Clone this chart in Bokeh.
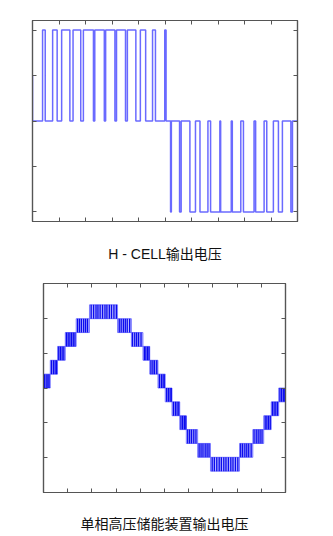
import numpy as np
from bokeh.plotting import figure
from bokeh.layouts import column
from bokeh.models import Range1d, LinearAxis, FixedTicker, ColumnDataSource
from bokeh.core.properties import value
from bokeh.embed import file_html
from bokeh.resources import INLINE

# ---------------- Chart 1: H-CELL output voltage (pulse edges, fraction of period) -------------
hcell_title = "H - CELL输出电压"
hcell_start_level = 0.5
pos_rise = [0.038, 0.076, 0.110, 0.153, 0.192, 0.235, 0.276, 0.317, 0.358, 0.407, 0.453, 0.499]
pos_fall = [0.048, 0.093, 0.141, 0.182, 0.230, 0.271, 0.311, 0.351, 0.390, 0.427, 0.464, 0.504]
neg_fall = [0.521, 0.555, 0.594, 0.632, 0.672, 0.710, 0.754, 0.796, 0.842, 0.884, 0.928, 0.975]
neg_rise = [0.524, 0.561, 0.615, 0.662, 0.707, 0.750, 0.786, 0.836, 0.874, 0.909, 0.943, 0.981]
hcell_xticks = [0.0, 0.1, 0.2, 0.3, 0.4, 0.5, 0.6, 0.7, 0.8, 0.9, 1.0]
hcell_yticks = [-1.0, -0.5, 0.0, 0.5, 1.0]

# ---------------- Chart 2: single-phase HV storage output (staircase bands) --------------------
stack_title = "单相高压储能装置输出电压"
band_start = [0.000, 0.028, 0.058, 0.090, 0.135, 0.190, 0.306, 0.363, 0.411, 0.439, 0.473,
              0.503, 0.531, 0.563, 0.590, 0.637, 0.690, 0.810, 0.865, 0.910, 0.941, 0.972]
band_low = [0, 1, 2, 3, 4, 5, 4, 3, 2, 1, 0, -1, -2, -3, -4, -5, -6, -5, -4, -3, -2, -1]
switch_t = [0.004, 0.011, 0.018, 0.023,
            0.033, 0.041, 0.048, 0.054,
            0.063, 0.070, 0.077, 0.084,
            0.095, 0.102, 0.109, 0.116, 0.123, 0.130,
            0.141, 0.149, 0.157, 0.166, 0.174, 0.182,
            0.197, 0.207, 0.217, 0.225, 0.234, 0.244, 0.254, 0.262, 0.272, 0.281, 0.291, 0.301,
            0.313, 0.321, 0.330, 0.338, 0.346, 0.356,
            0.368, 0.377, 0.385, 0.393, 0.403,
            0.417, 0.423, 0.430, 0.436,
            0.444, 0.452, 0.459, 0.468,
            0.479, 0.487, 0.494, 0.499,
            0.509, 0.516, 0.523, 0.528,
            0.537, 0.545, 0.552, 0.559,
            0.568, 0.575, 0.582, 0.588,
            0.596, 0.604, 0.612, 0.621, 0.630,
            0.643, 0.651, 0.659, 0.668, 0.676, 0.684,
            0.697, 0.706, 0.716, 0.726, 0.735, 0.745, 0.754, 0.764, 0.774, 0.783, 0.793, 0.803,
            0.815, 0.823, 0.832, 0.840, 0.848, 0.858,
            0.870, 0.879, 0.887, 0.895, 0.903,
            0.916, 0.923, 0.930, 0.937,
            0.946, 0.953, 0.960, 0.967,
            0.977, 0.984, 0.991, 0.997]
stack_xticks = [0.0, 0.1, 0.2, 0.3, 0.4, 0.5, 0.6, 0.7, 0.8, 0.9, 1.0]
stack_yticks = [-5.0, -2.5, 0.0, 2.5, 5.0]

FONT = "Liberation Sans, Noto Sans CJK SC"
FRAME = "#555555"


def add_axes(p, xt, yt):
    for side, ticks in (("below", xt), ("above", xt), ("left", yt), ("right", yt)):
        ax = LinearAxis(ticker=FixedTicker(ticks=ticks))
        ax.major_tick_in = 4
        ax.major_tick_out = 0
        ax.minor_tick_line_color = None
        ax.major_label_text_font_size = "0px"
        ax.major_label_text_color = None
        ax.major_label_standoff = 0
        ax.axis_line_color = FRAME
        ax.axis_line_width = 1.2
        ax.major_tick_line_color = FRAME
        p.add_layout(ax, side)


def base(height, lb, rb, tb, bb, yr):
    p = figure(width=333, height=height, output_backend="svg", toolbar_location=None,
               x_range=Range1d(0, 1), y_range=Range1d(-yr, yr),
               x_axis_location=None, y_axis_location=None,
               min_border_left=lb, min_border_right=rb, min_border_top=tb, min_border_bottom=bb)
    p.frame_align = False
    p.grid.visible = False
    p.outline_line_color = FRAME
    p.outline_line_width = 1.2
    p.background_fill_color = "white"
    p.border_fill_color = "white"
    return p


def caption(text, height, lb, rb):
    c = figure(width=333, height=height, output_backend="svg", toolbar_location=None,
               x_range=Range1d(0, 1), y_range=Range1d(0, 1),
               x_axis_location=None, y_axis_location=None,
               min_border_left=lb, min_border_right=rb, min_border_top=0, min_border_bottom=0)
    c.frame_align = False
    c.grid.visible = False
    c.outline_line_color = None
    c.background_fill_color = "white"
    c.border_fill_color = "white"
    c.text(x=[0.5], y=[0.5], text=[text], text_align="center", text_baseline="middle",
           text_font=value(FONT), text_font_size="14px", text_color="#111111")
    return c


# ----- chart 1 -----
p1 = base(240, 32, 36, 20, 19, 1.105)
xs, ys = [0.0, 0.0], [hcell_start_level, 0.0]
for r, f in zip(pos_rise, pos_fall):
    xs += [r, r, f, f]
    ys += [0, 1, 1, 0]
for f, r in zip(neg_fall, neg_rise):
    xs += [f, f, r, r]
    ys += [0, -1, -1, 0]
xs.append(1.0)
ys.append(0)
p1.line(xs, ys, line_color="#5050ff", line_width=1.5, line_alpha=0.85)
add_axes(p1, hcell_xticks, hcell_yticks)
c1 = caption(hcell_title, 26, 32, 36)

# ----- chart 2 -----
p2 = base(244, 43, 48, 17, 18, 7.54)
band_end = band_start[1:] + [1.0]
bs = ColumnDataSource(dict(left=band_start, right=band_end, bottom=band_low,
                           top=[v + 1 for v in band_low]))
p2.quad(left="left", right="right", bottom="bottom", top="top", source=bs,
        fill_color="#7a7aff", fill_alpha=0.55, line_color="#5555ff", line_alpha=0.7, line_width=1)
idx = np.searchsorted(np.array(band_start), np.array(switch_t), side="right") - 1
lows = np.array(band_low)[idx]
p2.segment(x0=switch_t, y0=lows, x1=switch_t, y1=lows + 1, line_color="#0a0aee", line_width=1.3)
add_axes(p2, stack_xticks, stack_yticks)
c2 = caption(stack_title, 26, 43, 48)

layout = column(p1, c1, p2, c2, spacing=0)
open("out.html", "w").write(file_html(layout, INLINE))
